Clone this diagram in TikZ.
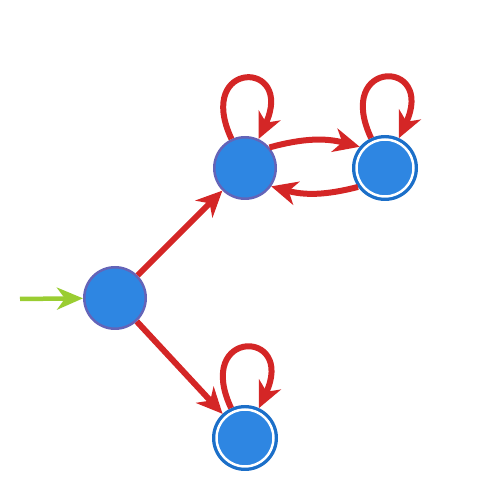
\documentclass[tikz,border=0pt]{standalone}
\usepackage{tikz}
\usetikzlibrary{arrows.meta}
\definecolor{stfill}{HTML}{2E86E2}
\definecolor{stborder}{HTML}{6464B8}
\definecolor{acring}{HTML}{1C6FC8}
\definecolor{edgered}{HTML}{D42626}
\definecolor{startgreen}{HTML}{9ACD32}
\begin{document}
\begin{tikzpicture}[x=1pt, y=1pt,
  state/.style={circle, draw=stborder, fill=stfill, line width=2.5pt, minimum size=61.5pt, inner sep=0pt},
  accept/.style={circle, draw=acring, fill=stfill, line width=3pt, minimum size=63pt, inner sep=0pt,
    path picture={\draw[white, line width=2.5pt] (path picture bounding box.center) circle (28.5pt);}},
  trans/.style={draw=edgered, line width=6pt, -{Stealth[length=26pt, width=24pt, inset=8pt]}},
  entry/.style={draw=startgreen, line width=4.5pt, -{Stealth[length=26pt, width=22pt, inset=8pt]}}]
  \useasboundingbox (0,0) rectangle (490,486);
  % states
  \node[state] (q0) at (115,188) {};
  \node[state] (q1) at (245,318) {};
  \node[accept] (q2) at (385,318) {};
  \node[accept] (q3) at (245,48) {};
  \coordinate (init) at (20,187);
  % transitions
  \draw[entry] (init) -- (q0);
  \draw[trans] (q0) -- (q1);
  \draw[trans] (q0) -- (q3);
  \draw[trans] (q1.40) to[bend left=15] (q2.140);
  \draw[trans] (q2.215) to[bend left=15] (q1.325);
  \foreach \s in {q1,q2,q3}
    \draw[trans] (\s) to[out=115, in=65, distance=88pt] (\s);
\end{tikzpicture}
\end{document}
